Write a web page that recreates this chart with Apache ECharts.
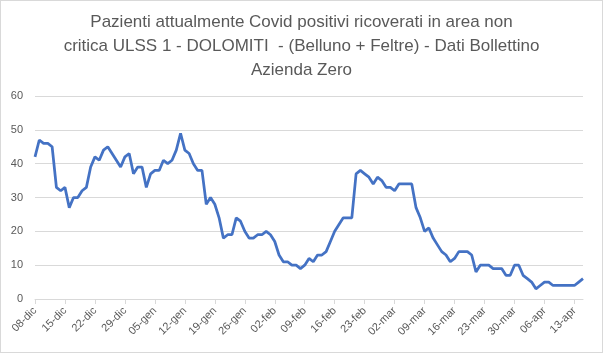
<!DOCTYPE html>
<html>
<head>
<meta charset="utf-8">
<script src="https://cdn.jsdelivr.net/npm/echarts@6/dist/echarts.min.js"></script>
<style>
  body { margin: 0; background: #fff; }
  #chart { width: 603px; height: 353px; box-sizing: border-box; border: 1px solid #d9d9d9; }
</style>
</head>
<body>
<div id="chart"></div>
<script>
// ricoverati area non critica, un valore al giorno dal 08-dic al 15-apr
const startDay = { year: 2020, month: 11, day: 8 };
const monthNames = ["gen", "feb", "mar", "apr", "mag", "giu", "lug", "ago", "set", "ott", "nov", "dic"];
const ricoverati = [
  42, 47, 46, 46, 45, 33, 32, 33, 27, 30, 30, 32, 33, 39, 42, 41, 44, 45,
  43, 41, 39, 42, 43, 37, 39, 39, 33, 37, 38, 38, 41, 40, 41, 44, 49, 44,
  43, 40, 38, 38, 28, 30, 28, 24, 18, 19, 19, 24, 23, 20, 18, 18, 19, 19,
  20, 19, 17, 13, 11, 11, 10, 10, 9, 10, 12, 11, 13, 13, 14, 17, 20, 22,
  24, 24, 24, 37, 38, 37, 36, 34, 36, 35, 33, 33, 32, 34, 34, 34, 34, 27,
  24, 20, 21, 18, 16, 14, 13, 11, 12, 14, 14, 14, 13, 8, 10, 10, 10, 9,
  9, 9, 7, 7, 10, 10, 7, 6, 5, 3, 4, 5, 5, 4, 4, 4, 4, 4, 4, 5, 6
];
const yTicks = [0, 10, 20, 30, 40, 50, 60];
const titleLines = [
  "Pazienti attualmente Covid positivi ricoverati in area non",
  "critica ULSS 1 - DOLOMITI  - (Belluno + Feltre) - Dati Bollettino",
  "Azienda Zero"
];

// etichette giornaliere tipo "08-dic"
const giorni = ricoverati.map((v, i) => {
  const d = new Date(startDay.year, startDay.month, startDay.day + i);
  return String(d.getDate()).padStart(2, "0") + "-" + monthNames[d.getMonth()];
});

const myChart = echarts.init(document.getElementById("chart"));
const grey = "#595959";
const option = {
  animation: false,
  title: {
    text: titleLines.join("\n"),
    left: "center",
    top: 4,
    textStyle: {
      fontFamily: "Liberation Sans",
      fontSize: 17,
      fontWeight: "normal",
      color: grey,
      lineHeight: 24
    }
  },
  grid: { left: 34, right: 19, top: 95, bottom: 53 },
  xAxis: {
    type: "category",
    data: giorni,
    boundaryGap: false,
    axisLine: { lineStyle: { color: "#d9d9d9" } },
    axisTick: { interval: 6, length: 5, lineStyle: { color: "#d9d9d9" } },
    axisLabel: {
      interval: 6,
      rotate: 45,
      color: grey,
      fontSize: 11,
      fontFamily: "Liberation Sans",
      margin: 10
    }
  },
  yAxis: {
    type: "value",
    min: yTicks[0],
    max: yTicks[yTicks.length - 1],
    interval: 10,
    axisLine: { show: false },
    axisTick: { show: false },
    axisLabel: { color: grey, fontSize: 11, fontFamily: "Liberation Sans", margin: 12 },
    splitLine: { lineStyle: { color: "#d9d9d9" } }
  },
  series: [
    {
      type: "line",
      data: ricoverati,
      showSymbol: false,
      lineStyle: { color: "#4472c4", width: 2.75 },
      itemStyle: { color: "#4472c4" }
    }
  ]
};
myChart.setOption(option);
</script>
</body>
</html>
